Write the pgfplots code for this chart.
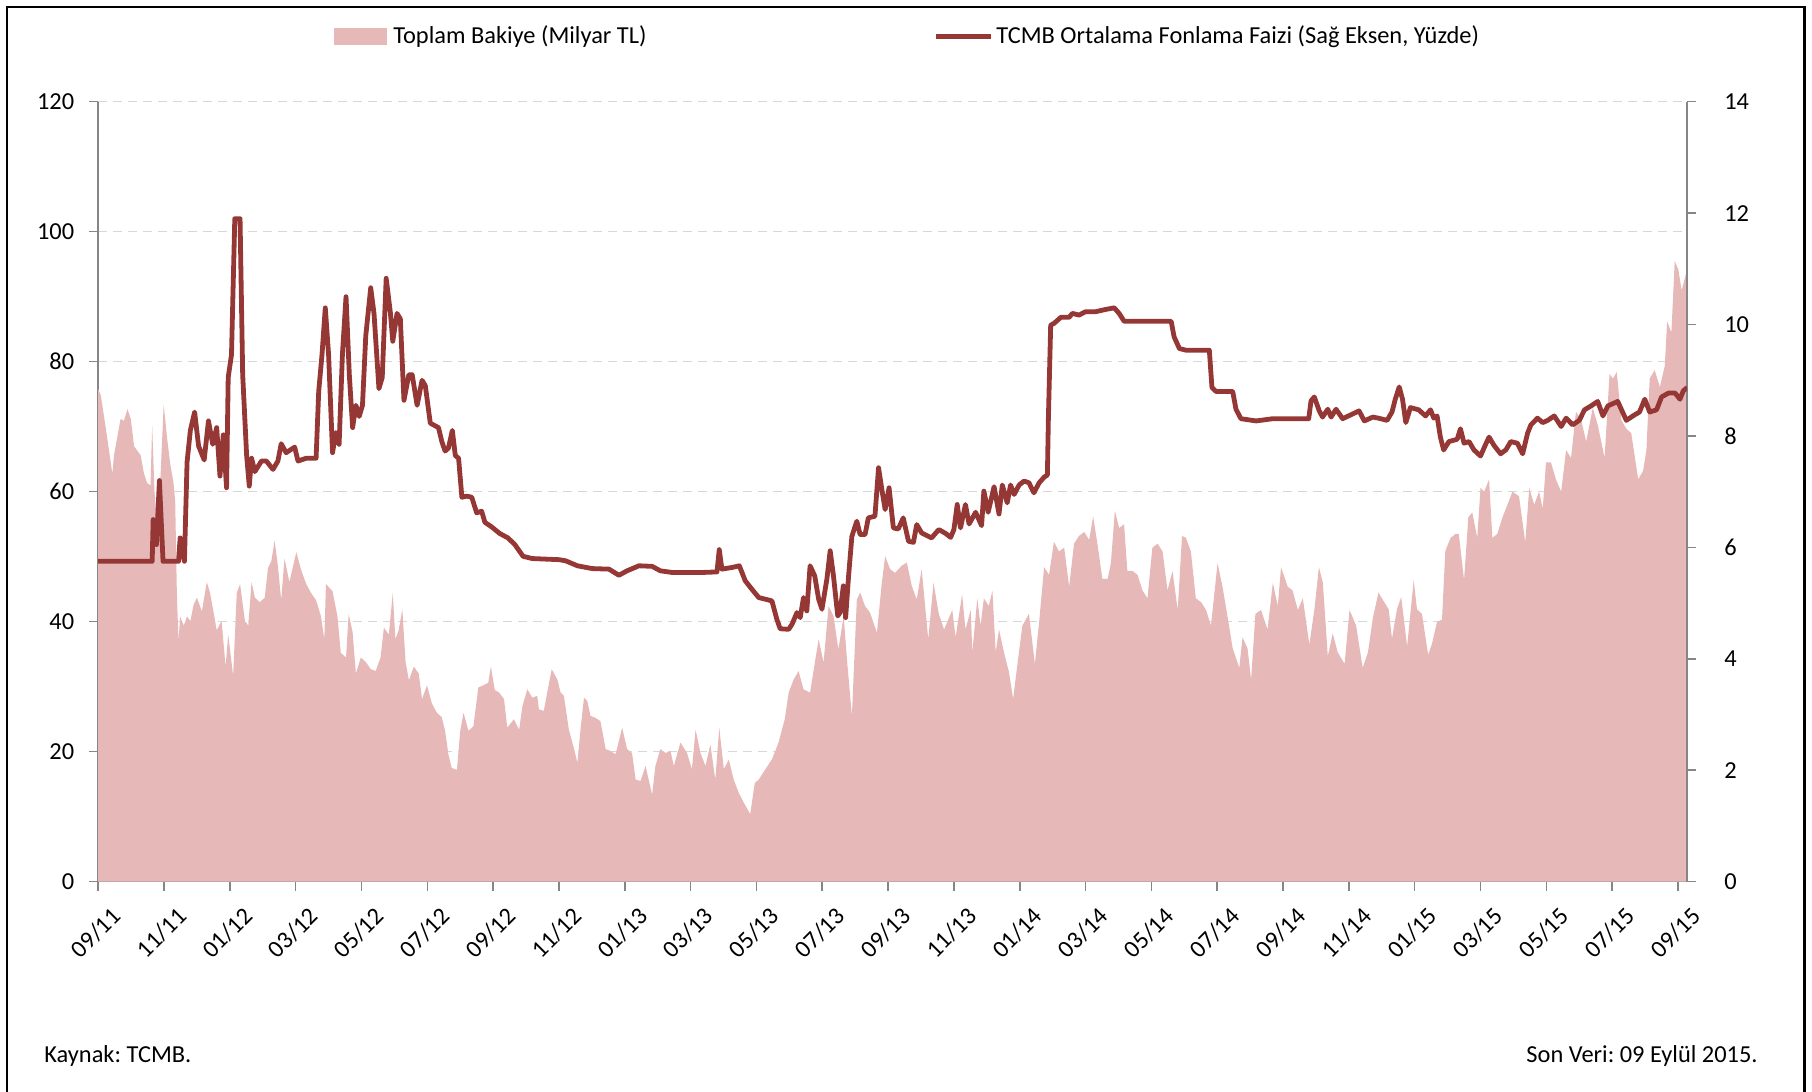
\documentclass[border=0pt]{standalone}
\usepackage{fontspec}
\setmainfont{Carlito}
\usepackage{pgfplots}
\pgfplotsset{compat=1.18}
\usepackage{pgfplotstable}
\definecolor{areapink}{RGB}{230,184,183}
\definecolor{linered}{RGB}{149,55,53}
\definecolor{axgray}{RGB}{134,134,134}
\definecolor{gridgray}{RGB}{215,215,215}
\frenchspacing

\pgfplotstableread{
m v
0.00 75.8
0.08 74.8
0.23 69.8
0.43 62.8
0.48 65.6
0.63 69.8
0.68 71.2
0.78 70.9
0.89 72.7
0.99 71.2
1.09 67.0
1.19 66.3
1.29 65.6
1.39 62.8
1.49 61.3
1.59 61.0
1.64 70.2
1.71 60.0
1.79 55.0
1.89 62.0
1.99 73.4
2.09 68.4
2.19 64.2
2.29 61.3
2.34 58.5
2.39 44.4
2.44 37.0
2.49 40.8
2.60 39.4
2.70 40.8
2.80 40.1
2.90 42.6
3.00 43.7
3.15 41.6
3.30 46.1
3.40 44.4
3.50 41.6
3.60 38.7
3.75 40.1
3.87 33.1
3.95 38.0
4.10 31.7
4.21 44.4
4.31 45.8
4.46 40.1
4.56 39.4
4.66 46.1
4.76 43.7
4.91 43.0
5.06 43.7
5.16 48.3
5.26 49.3
5.36 52.5
5.46 48.6
5.56 43.3
5.66 49.7
5.81 46.1
6.02 50.7
6.17 47.9
6.32 45.8
6.47 44.4
6.62 43.3
6.77 40.8
6.87 37.3
6.92 45.8
7.12 44.7
7.27 40.8
7.37 35.2
7.53 34.5
7.61 41.2
7.73 38.4
7.83 32.0
7.98 34.5
8.13 33.8
8.28 32.7
8.43 32.4
8.58 34.5
8.68 39.1
8.83 38.0
8.95 44.4
9.03 37.3
9.13 38.7
9.24 41.9
9.34 33.8
9.44 31.0
9.59 33.1
9.74 32.0
9.84 28.1
9.99 30.2
10.14 27.4
10.29 26.0
10.44 25.3
10.54 23.2
10.64 19.6
10.74 17.5
10.90 17.2
11.00 23.2
11.10 26.0
11.25 23.2
11.40 23.9
11.55 29.9
11.70 30.2
11.85 30.6
11.93 33.1
12.05 29.5
12.18 29.1
12.33 28.1
12.43 23.7
12.63 25.0
12.79 23.4
12.89 27.0
13.04 29.6
13.19 28.3
13.34 28.6
13.39 26.5
13.54 26.3
13.65 29.3
13.78 32.7
13.95 31.1
14.05 29.1
14.15 28.6
14.30 23.4
14.46 20.4
14.56 18.3
14.66 23.7
14.76 28.3
14.86 27.8
14.96 25.5
15.11 25.2
15.26 24.7
15.42 20.4
15.57 20.1
15.72 19.6
15.92 23.7
16.07 20.4
16.22 19.8
16.33 15.7
16.48 15.5
16.63 17.8
16.83 13.4
16.93 17.8
17.08 20.4
17.24 19.8
17.39 20.1
17.49 17.8
17.69 21.4
17.89 19.8
18.04 17.3
18.15 23.4
18.30 19.8
18.45 17.8
18.60 21.1
18.75 15.7
18.87 23.7
19.01 17.3
19.16 18.8
19.31 15.7
19.46 13.7
19.61 12.2
19.81 10.4
19.95 15.2
20.07 15.7
20.27 17.3
20.47 18.8
20.67 21.4
20.86 25.0
20.98 29.1
21.13 31.1
21.28 32.4
21.43 29.6
21.63 29.1
21.79 34.2
21.89 37.3
22.04 33.7
22.19 42.4
22.34 40.9
22.49 35.7
22.65 40.9
22.75 34.2
22.90 25.5
23.05 43.4
23.15 44.5
23.30 42.4
23.45 41.4
23.66 38.3
23.81 46.0
23.91 50.1
24.06 48.1
24.21 47.5
24.41 48.6
24.57 49.1
24.72 45.5
24.87 43.4
25.02 48.1
25.22 37.3
25.38 46.0
25.54 41.2
25.70 38.8
25.80 40.0
25.95 41.8
26.05 37.6
26.25 44.2
26.35 38.8
26.51 41.8
26.56 35.3
26.71 43.6
26.81 39.4
26.91 43.6
27.06 42.4
27.17 44.8
27.27 35.3
27.37 38.8
27.52 35.3
27.67 32.3
27.80 28.1
27.93 33.5
28.08 39.4
28.28 41.2
28.46 33.5
28.59 40.0
28.74 48.4
28.89 47.2
29.04 52.3
29.19 50.8
29.35 51.4
29.50 45.4
29.65 52.0
29.80 53.2
29.96 53.8
30.11 52.6
30.23 56.2
30.36 52.0
30.51 46.6
30.67 46.6
30.77 49.0
30.89 57.1
31.02 54.4
31.17 55.0
31.27 47.8
31.43 47.8
31.58 47.2
31.73 44.8
31.88 43.6
32.03 51.4
32.19 52.0
32.34 50.8
32.49 44.8
32.64 47.8
32.80 41.8
32.93 53.2
33.05 52.9
33.20 50.8
33.35 43.6
33.51 43.0
33.66 41.8
33.81 39.4
34.01 49.0
34.16 45.4
34.32 40.6
34.47 35.9
34.67 32.9
34.77 37.6
34.92 35.9
35.03 31.1
35.16 41.2
35.33 41.8
35.53 38.8
35.69 46.0
35.84 42.4
35.94 48.4
36.14 45.4
36.29 44.8
36.45 41.8
36.60 43.6
36.80 36.5
36.95 41.8
37.09 48.4
37.21 46.0
37.36 34.7
37.51 38.2
37.66 35.3
37.87 33.5
38.02 41.8
38.22 39.4
38.42 32.9
38.58 35.3
38.73 40.6
38.90 44.5
39.05 43.2
39.21 41.9
39.31 37.4
39.46 41.9
39.59 43.8
39.77 36.2
39.97 46.4
40.07 41.9
40.22 41.2
40.41 34.9
40.53 36.7
40.68 40.0
40.83 40.3
40.93 50.9
41.09 52.9
41.24 53.5
41.34 53.5
41.50 46.4
41.63 56.1
41.75 56.8
41.90 52.9
42.00 60.6
42.11 60.0
42.26 61.9
42.36 52.9
42.51 53.5
42.67 56.1
42.82 58.0
42.97 60.0
43.17 59.3
43.36 52.2
43.48 60.6
43.63 58.0
43.78 60.0
43.89 57.4
43.99 64.5
44.14 64.5
44.29 61.9
44.45 60.0
44.60 66.4
44.75 65.2
44.90 72.3
45.06 71.0
45.21 67.7
45.41 72.9
45.56 70.3
45.77 65.2
45.92 78.1
46.02 77.4
46.14 78.4
46.28 71.0
46.43 69.7
46.58 69.0
46.79 61.9
46.94 63.2
47.04 66.4
47.14 77.4
47.29 78.7
47.45 76.1
47.60 79.4
47.67 86.2
47.80 84.5
47.90 95.5
48.01 94.2
48.11 91.0
48.28 94.2
}\areadata

\pgfplotstableread{
m r
0.00 5.75
1.64 5.75
1.67 6.50
1.77 6.05
1.86 7.20
1.97 5.75
2.44 5.75
2.49 6.17
2.62 5.75
2.70 7.53
2.80 8.10
2.93 8.43
3.05 7.82
3.22 7.57
3.35 8.27
3.48 7.85
3.60 8.15
3.70 7.28
3.80 8.02
3.90 7.07
3.95 9.05
4.05 9.46
4.15 11.90
4.31 11.90
4.39 9.10
4.51 7.65
4.59 7.10
4.66 7.60
4.76 7.36
4.96 7.55
5.11 7.55
5.31 7.40
5.46 7.55
5.56 7.86
5.71 7.70
5.97 7.80
6.07 7.55
6.32 7.60
6.62 7.60
6.70 8.80
6.80 9.46
6.90 10.30
7.00 9.46
7.12 7.70
7.22 8.06
7.32 7.85
7.42 9.46
7.53 10.50
7.63 9.10
7.73 8.15
7.83 8.55
7.93 8.35
8.03 8.55
8.13 9.80
8.28 10.66
8.38 10.20
8.53 8.85
8.63 9.05
8.75 10.83
8.88 10.20
8.95 9.70
9.08 10.20
9.18 10.10
9.29 8.64
9.44 9.10
9.54 9.10
9.69 8.55
9.84 9.00
9.94 8.90
10.09 8.23
10.34 8.15
10.44 7.90
10.54 7.73
10.64 7.78
10.76 8.10
10.85 7.65
10.95 7.60
11.05 6.90
11.20 6.92
11.35 6.90
11.50 6.62
11.65 6.65
11.75 6.45
11.95 6.37
12.20 6.25
12.45 6.17
12.66 6.05
12.91 5.84
13.19 5.80
14.00 5.78
14.20 5.76
14.56 5.67
15.01 5.62
15.52 5.61
15.82 5.50
16.07 5.58
16.43 5.67
16.83 5.66
17.08 5.58
17.44 5.55
17.84 5.55
18.35 5.55
18.80 5.56
18.87 5.96
18.95 5.61
19.26 5.64
19.48 5.67
19.66 5.40
19.86 5.25
20.07 5.10
20.27 5.07
20.47 5.04
20.62 4.71
20.72 4.54
20.98 4.53
21.08 4.62
21.23 4.83
21.33 4.74
21.43 5.10
21.53 4.86
21.63 5.67
21.77 5.49
21.89 5.07
21.99 4.89
22.14 5.43
22.24 5.94
22.34 5.49
22.47 4.77
22.54 4.83
22.64 5.31
22.71 4.74
22.80 5.49
22.90 6.20
23.05 6.47
23.15 6.23
23.30 6.23
23.40 6.53
23.60 6.56
23.71 7.43
23.81 7.04
23.91 6.68
24.03 7.07
24.16 6.35
24.31 6.33
24.46 6.53
24.62 6.11
24.77 6.09
24.87 6.41
25.02 6.26
25.32 6.17
25.54 6.32
25.75 6.25
25.90 6.18
26.00 6.32
26.10 6.77
26.20 6.35
26.35 6.77
26.46 6.42
26.66 6.63
26.84 6.39
26.91 7.01
27.04 6.63
27.22 7.09
27.37 6.60
27.47 7.12
27.62 6.80
27.72 7.12
27.83 6.95
27.98 7.12
28.13 7.19
28.28 7.16
28.43 6.98
28.59 7.16
28.74 7.26
28.84 7.30
28.87 8.31
28.94 9.99
29.04 10.02
29.25 10.13
29.50 10.13
29.60 10.20
29.80 10.17
30.00 10.23
30.30 10.23
30.60 10.27
30.87 10.30
31.02 10.20
31.17 10.06
31.43 10.06
31.83 10.06
32.24 10.06
32.60 10.06
32.69 9.78
32.85 9.57
33.05 9.54
33.76 9.54
33.84 8.87
33.96 8.80
34.47 8.80
34.57 8.48
34.72 8.31
35.18 8.27
35.69 8.31
36.29 8.31
36.78 8.31
36.85 8.63
36.95 8.70
37.10 8.45
37.20 8.34
37.36 8.48
37.46 8.34
37.61 8.48
37.81 8.31
38.31 8.45
38.47 8.27
38.73 8.34
38.90 8.32
39.16 8.28
39.31 8.43
39.41 8.66
39.53 8.88
39.63 8.66
39.73 8.24
39.87 8.51
40.12 8.47
40.33 8.36
40.48 8.47
40.58 8.32
40.68 8.36
40.78 7.98
40.88 7.75
41.04 7.90
41.29 7.94
41.39 8.13
41.50 7.87
41.65 7.90
41.80 7.75
42.00 7.64
42.14 7.83
42.26 7.98
42.41 7.83
42.61 7.68
42.77 7.75
42.92 7.90
43.12 7.87
43.28 7.68
43.43 8.05
43.53 8.20
43.73 8.32
43.89 8.24
44.04 8.28
44.24 8.36
44.45 8.17
44.60 8.32
44.80 8.20
45.00 8.28
45.16 8.47
45.36 8.54
45.56 8.62
45.72 8.36
45.87 8.54
46.02 8.58
46.17 8.62
46.43 8.28
46.63 8.36
46.83 8.43
46.99 8.66
47.14 8.43
47.35 8.47
47.50 8.70
47.71 8.77
47.91 8.77
48.06 8.66
48.16 8.81
48.28 8.87
}\linedata

\pgfplotsset{
  mybase/.style={
    scale only axis, width=794.5pt, height=390pt,
    xmin=0, xmax=48.28,
    tick align=outside,
    major tick length=4.5pt,
    axis line style={axgray, line width=0.8pt, -},
    tick style={axgray, line width=0.8pt},
    tick label style={font=\fontsize{12.2}{14.6}\selectfont, text=black},
    /pgf/number format/assume math mode=true,
  }
}

\begin{document}
\begin{tikzpicture}[font=\fontsize{12.2}{14.6}\selectfont]
\path[use as bounding box] (-49.1pt,-105.15pt) rectangle (856.9pt,440.85pt);
\draw[line width=1.3pt] (-45.6pt,-120pt) -- (-45.6pt,437.3pt) -- (853.1pt,437.3pt) -- (853.1pt,-120pt);

\begin{axis}[mybase,
  ymin=0, ymax=120,
  axis x line*=bottom, axis y line*=left,
  ytick={0,20,...,120},
  xtick={0,2,...,48},
  xticklabels={09/11,11/11,01/12,03/12,05/12,07/12,09/12,11/12,01/13,03/13,05/13,07/13,09/13,11/13,01/14,03/14,05/14,07/14,09/14,11/14,01/15,03/15,05/15,07/15,09/15},
  x tick label style={rotate=45, anchor=east, xshift=2.5pt, yshift=-14pt},
  y tick label style={xshift=-4pt},
  ymajorgrids,
  grid style={gridgray, dash pattern=on 4.5pt off 3pt, line width=0.8pt},
]
\addplot[fill=areapink, draw=none] table[x=m, y=v] {\areadata} \closedcycle;
\end{axis}

\begin{axis}[mybase,
  ymin=0, ymax=14,
  axis y line*=right, axis x line=none,
  ytick={0,2,...,14},
  y tick label style={xshift=10.5pt},
]
\addplot[linered, line width=2.4pt, line join=round] table[x=m, y=r] {\linedata};
\end{axis}

% legend
\fill[areapink] (117.9pt,418.4pt) rectangle (144.4pt,426.9pt);
\node[anchor=west, inner sep=0pt] at (147.4pt,422.6pt) {Toplam Bakiye (Milyar TL)};
\draw[linered, line width=2.4pt] (418.9pt,422.6pt) -- (446.4pt,422.6pt);
\node[anchor=west, inner sep=0pt] at (448.9pt,422.6pt) {TCMB Ortalama Fonlama Faizi (Sağ Eksen, Yüzde)};

% footer
\node[anchor=west, inner sep=0pt] at (-27.1pt,-87.2pt) {Kaynak: TCMB.};
\node[anchor=east, inner sep=0pt] at (829.9pt,-87.2pt) {Son Veri: 09 Eylül 2015.};
\end{tikzpicture}
\end{document}
